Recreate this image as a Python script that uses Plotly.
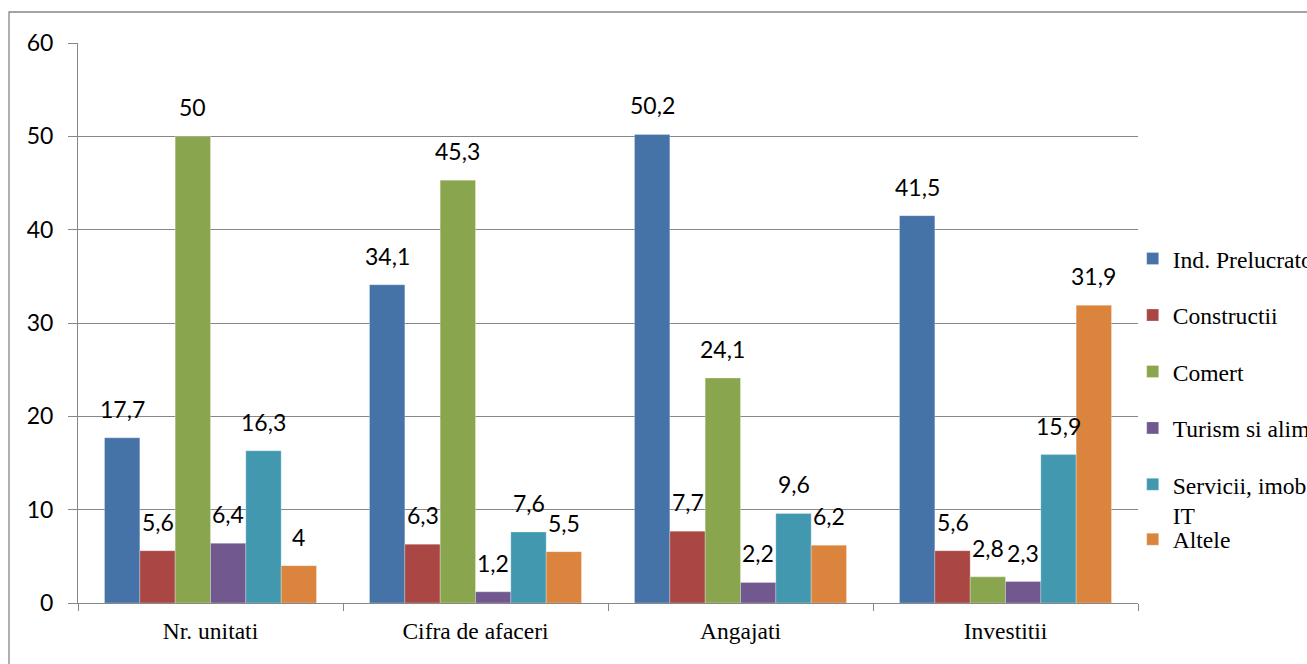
import plotly.graph_objects as go

categories = ["Nr. unitati", "Cifra de afaceri", "Angajati", "Investitii"]
series_names = [
    "Ind. Prelucratoare",
    "Constructii",
    "Comert",
    "Turism si alimentatie publica",
    "Servicii, imobiliare,<br>IT",
    "Altele",
]
ind_prelucratoare = [17.7, 34.1, 50.2, 41.5]
constructii = [5.6, 6.3, 7.7, 5.6]
comert = [50, 45.3, 24.1, 2.8]
turism = [6.4, 1.2, 2.2, 2.3]
servicii = [16.3, 7.6, 9.6, 15.9]
altele = [4, 5.5, 6.2, 31.9]
series_values = [ind_prelucratoare, constructii, comert, turism, servicii, altele]
colors = ["#4572A7", "#AA4643", "#89A54E", "#71588F", "#4198AF", "#DB843D"]
y_ticks = [0, 10, 20, 30, 40, 50, 60]

BARGAP = 0.2
n = len(series_values)
grid = "#878787"

def fmt(v):
    s = ("%g" % v)
    return s.replace(".", ",")

fig = go.Figure()
for i, (name, vals, col) in enumerate(zip(series_names, series_values, colors)):
    fig.add_trace(go.Bar(
        name=name, x=categories, y=vals,
        marker=dict(color=col, line=dict(color="rgba(255,255,255,0.45)", width=0.6)),
        legendgroup=name,
        legend="legend2" if i == n - 1 else "legend",
        hoverinfo="x+y+name",
    ))

annotations = []
w = (1 - BARGAP) / n
for i, vals in enumerate(series_values):
    off = -(1 - BARGAP) / 2 + (i + 0.5) * w
    for j, v in enumerate(vals):
        annotations.append(dict(
            x=j + off, y=v, xref="x", yref="y", text=fmt(v), showarrow=False,
            yanchor="middle", xanchor="center", yshift=29,
            font=dict(family="Lato", size=23, color="#000000"),
        ))

legend_font = dict(family="Liberation Serif", size=23.6, color="#000000")
fig.update_layout(
    width=1307, height=664,
    barmode="group", bargap=BARGAP, bargroupgap=0,
    plot_bgcolor="white", paper_bgcolor="white",
    margin=dict(l=78, r=169, t=43, b=61, autoexpand=False),
    annotations=annotations,
    legend=dict(
        x=0.995, xanchor="left", y=0.654, yanchor="top",
        font=legend_font,
        tracegroupgap=22.75, traceorder="grouped", valign="top",
        bgcolor="rgba(0,0,0,0)",
    ),
    legend2=dict(
        x=0.995, xanchor="left", y=0.153, yanchor="top",
        font=legend_font,
        valign="top", bgcolor="rgba(0,0,0,0)",
    ),
    shapes=[dict(
        type="rect", xref="paper", yref="paper",
        x0=(9 - 78) / 1060, x1=(1330 - 78) / 1060,
        y0=(603 - 700) / 560, y1=(603 - 12) / 560,
        line=dict(color="#878787", width=1.3), fillcolor="rgba(0,0,0,0)", layer="below",
    )],
)
fig.update_yaxes(
    range=[0, 60], tickvals=y_ticks, showgrid=True, gridcolor=grid, gridwidth=1,
    showline=True, linecolor=grid, linewidth=1, ticks="outside", ticklen=9, tickcolor=grid,
    tickfont=dict(family="Lato", size=23, color="#000000"), ticklabelstandoff=10,
    zeroline=False,
)
fig.update_xaxes(
    showline=True, linecolor=grid, linewidth=1.3, ticks="outside", ticklen=7, tickcolor=grid,
    tickson="boundaries", ticklabelstandoff=7,
    tickfont=dict(family="Liberation Serif", size=23.5, color="#000000"),
)

fig.write_html("out.html", config={"displayModeBar": False},
               post_script="document.body.style.margin='0';")
